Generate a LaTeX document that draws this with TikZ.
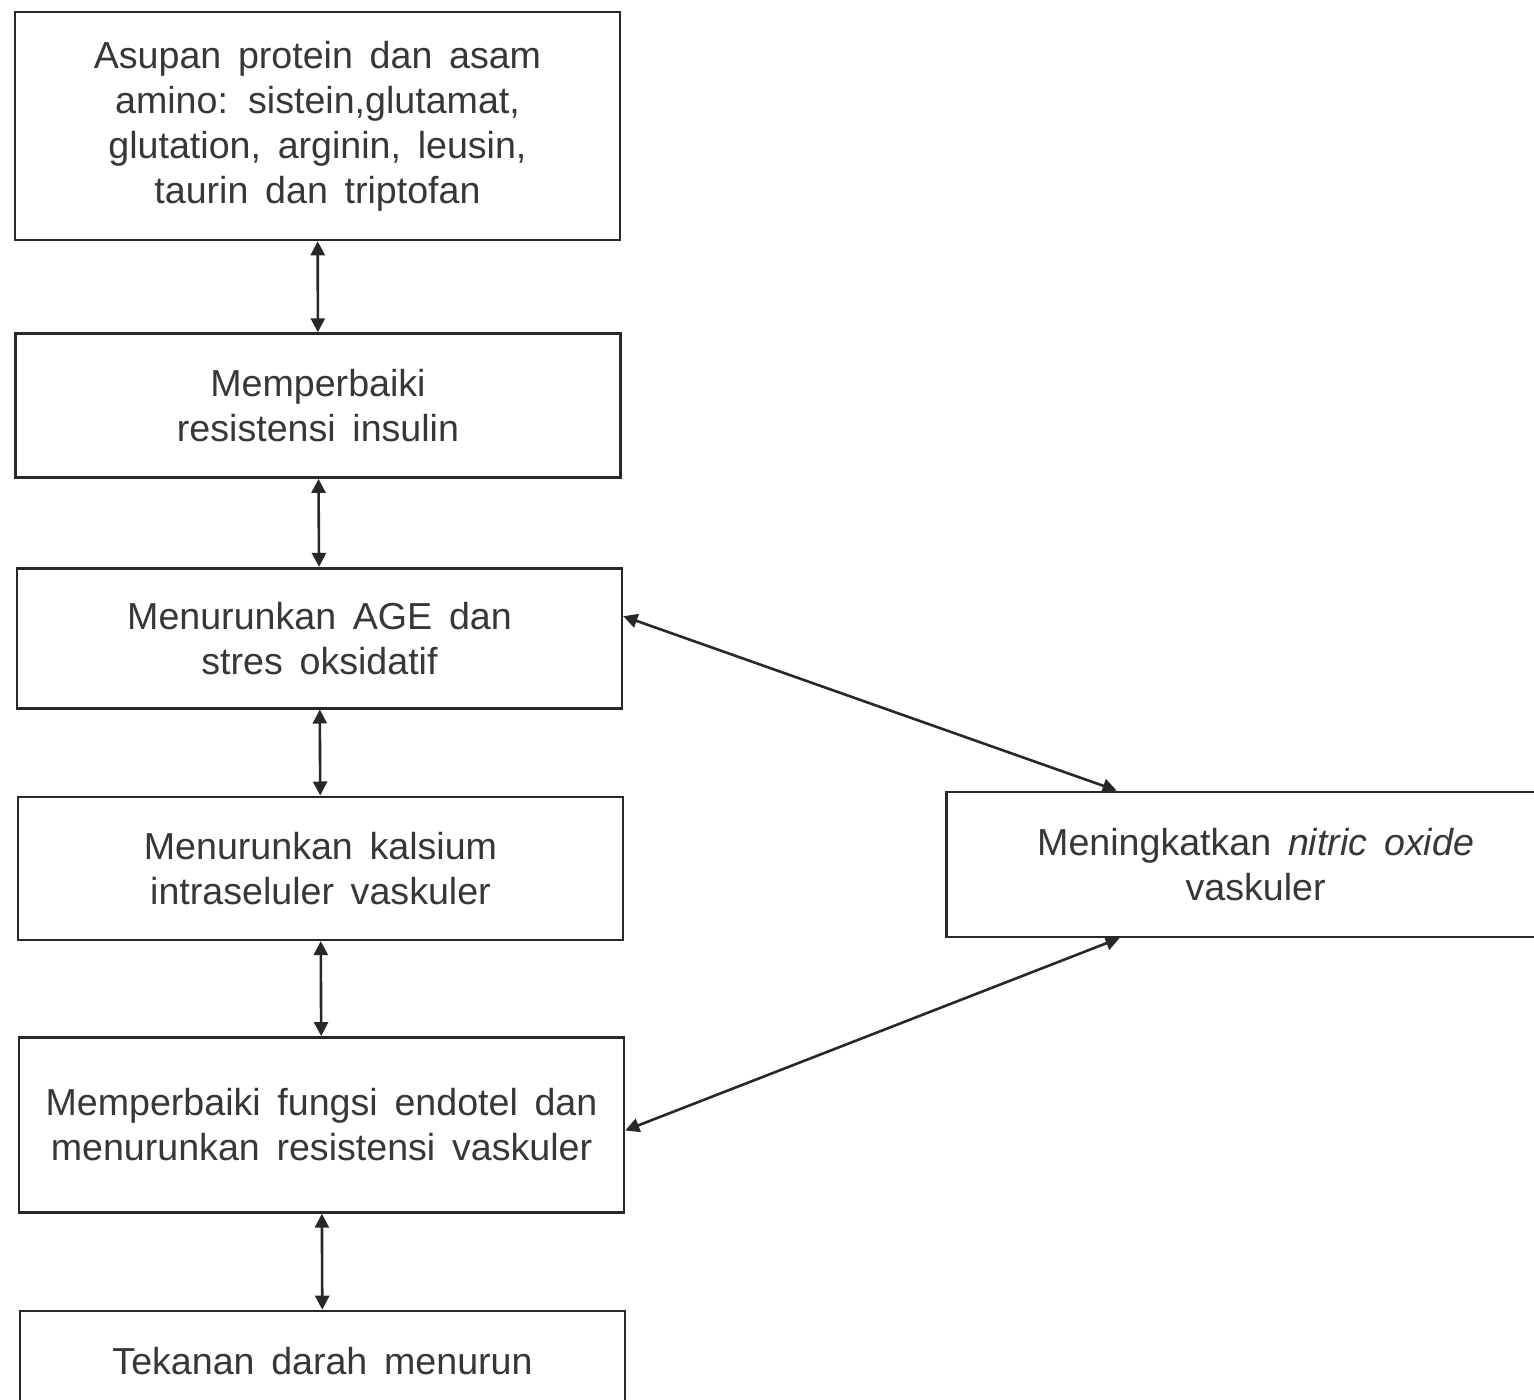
\documentclass[tikz,border=0pt]{standalone}
\usepackage{fontspec}
\setmainfont{Liberation Sans}[WordSpace=1.6]
\usepackage{tikz}
\usetikzlibrary{positioning,arrows.meta}
\definecolor{linecol}{RGB}{40,40,40}
\definecolor{txtcol}{RGB}{55,55,55}
\tikzset{
  flowbox/.style={rectangle, draw=linecol, line width=1.3pt, fill=white,
    align=center, text=txtcol, font=\fontsize{18.8}{22.5}\selectfont,
    minimum width=302.5pt, inner sep=0pt},
  darr/.style={{Triangle[length=7pt,width=7pt]}-{Triangle[length=7pt,width=7pt]},
    line width=1.3pt, draw=linecol},
}
\begin{document}
\begin{tikzpicture}[x=0.5pt, y=0.5pt]
  \useasboundingbox (0,0) rectangle (1534,-1400);
  \clip (0,0) rectangle (1534,-1400);

  % kolom kiri
  \node[flowbox, minimum height=114pt] (asupan) at (317.5,-126)
    {Asupan protein dan asam\\amino: sistein,glutamat,\\glutation, arginin, leusin,\\taurin dan triptofan};
  \node[flowbox, minimum height=72pt, below=45.5pt of asupan, xshift=0.25pt] (insulin)
    {Memperbaiki\\resistensi insulin};
  \node[flowbox, minimum height=70pt, below=44pt of insulin, xshift=0.75pt] (age)
    {Menurunkan AGE dan\\stres oksidatif};
  \node[flowbox, minimum height=71.5pt, below=43pt of age, xshift=0.5pt] (kalsium)
    {Menurunkan kalsium\\intraseluler vaskuler};
  \node[flowbox, minimum height=87.5pt, below=47.5pt of kalsium, xshift=0.5pt] (endotel)
    {Memperbaiki fungsi endotel dan\\menurunkan resistensi vaskuler};
  \node[flowbox, minimum height=50pt, below=48pt of endotel, xshift=0.5pt] (tekanan)
    {Tekanan darah menurun};

  % kanan
  \node[flowbox, minimum width=309pt, minimum height=72.5pt, right=160.5pt of kalsium, yshift=2pt] (nitric)
    {Meningkatkan \textit{nitric oxide}\\vaskuler};

  \draw[darr] (asupan) -- (insulin);
  \draw[darr] (insulin) -- (age);
  \draw[darr] (age) -- (kalsium);
  \draw[darr] (kalsium) -- (endotel);
  \draw[darr] (endotel) -- (tekanan);
  \draw[darr] ([yshift=11pt]age.east) -- ([xshift=-69.5pt]nitric.north);
  \draw[darr] ([yshift=-2.75pt]endotel.east) -- ([xshift=-68pt]nitric.south);
\end{tikzpicture}
\end{document}
